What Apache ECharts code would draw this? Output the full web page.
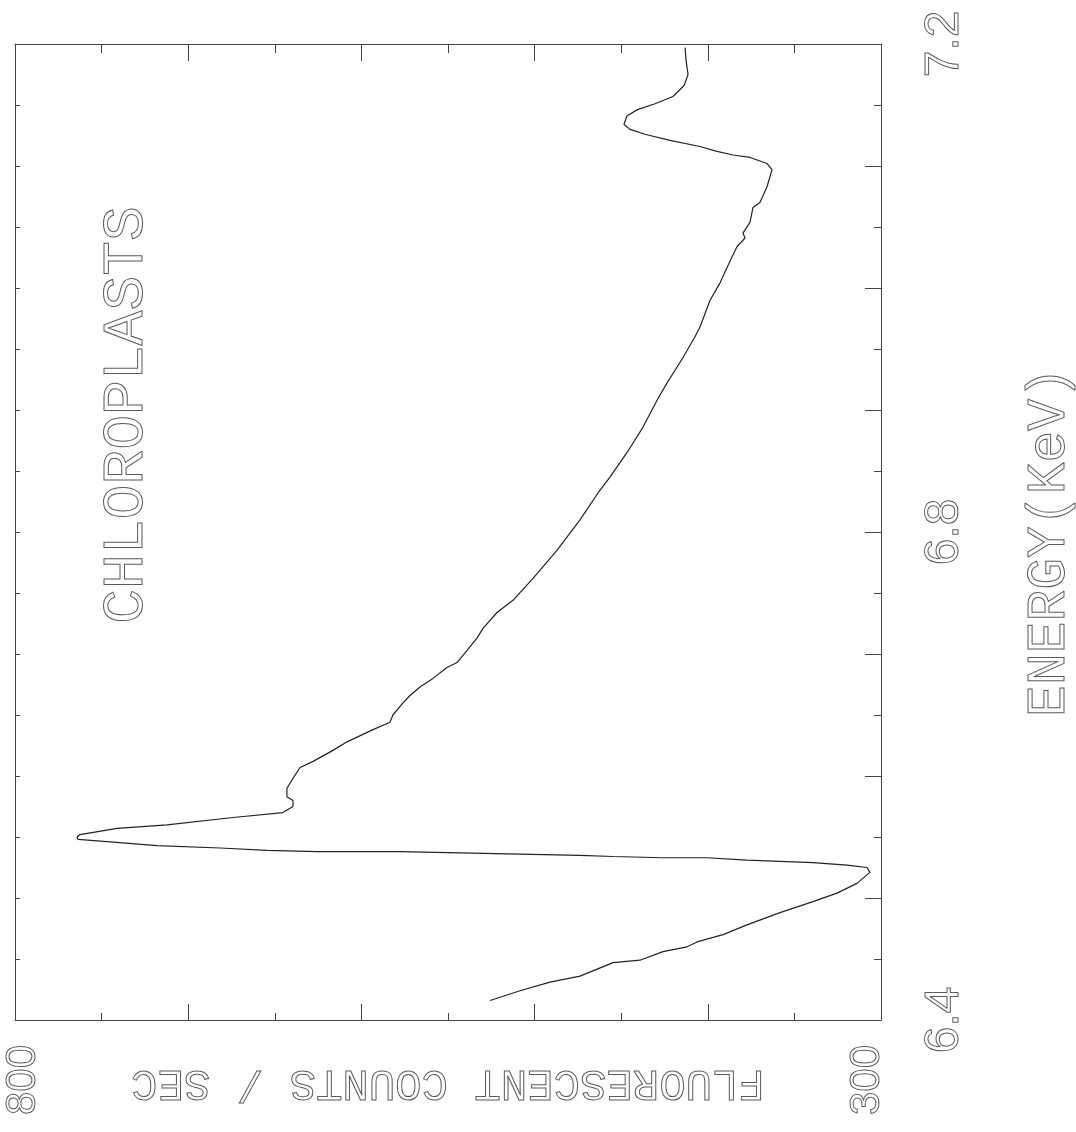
<!DOCTYPE html>
<html>
<head>
<meta charset="utf-8">
<title>Chloroplasts fluorescence scan</title>
<script src="https://cdn.jsdelivr.net/npm/echarts@6/dist/echarts.min.js"></script>
<style>
  html, body { margin: 0; padding: 0; background: #ffffff; }
  #chart { width: 1076px; height: 1132px; }
</style>
</head>
<body>
<div id="chart"></div>
<script>
// Incident energy (keV) and fluorescent counts per second along the scan
const energy = [
  6.416, 6.424, 6.431, 6.436, 6.447, 6.449, 6.456, 6.460, 6.464, 6.470,
  6.478, 6.488, 6.497, 6.504, 6.512, 6.521, 6.525, 6.527, 6.529, 6.530,
  6.531, 6.533, 6.533, 6.534, 6.535, 6.538, 6.538, 6.539, 6.541, 6.543,
  6.546, 6.548, 6.550, 6.552, 6.557, 6.560, 6.566, 6.570, 6.575, 6.580,
  6.583, 6.590, 6.598, 6.607, 6.612, 6.621, 6.628, 6.638, 6.644, 6.650,
  6.660, 6.666, 6.673, 6.680, 6.689, 6.693, 6.703, 6.713, 6.721, 6.734,
  6.744, 6.762, 6.785, 6.810, 6.832, 6.845, 6.865, 6.886, 6.908, 6.922,
  6.943, 6.960, 6.968, 6.990, 7.004, 7.022, 7.034, 7.041, 7.045, 7.054,
  7.066, 7.070, 7.083, 7.097, 7.102, 7.107, 7.109, 7.112, 7.116, 7.121,
  7.126, 7.130, 7.134, 7.141, 7.146, 7.151, 7.157, 7.166, 7.175, 7.187,
  7.197
];
const counts = [
  525.7, 508.4, 491.1, 473.8, 454.7, 439.1, 425.9, 412.0, 406.2, 391.2,
  377.4, 358.3, 339.3, 325.4, 313.9, 306.4, 308.1, 319.6, 339.3, 358.3,
  377.4, 400.5, 425.9, 454.7, 473.8, 577.7, 625.6, 654.5, 681.6, 718.0,
  745.1, 763.6, 764.2, 762.5, 741.1, 712.2, 674.1, 645.3, 639.5, 639.5,
  643.0, 643.0, 639.5, 635.4, 627.9, 616.4, 608.3, 593.3, 583.5, 581.8,
  576.0, 571.9, 566.2, 558.7, 550.6, 544.8, 539.0, 533.3, 529.8, 521.7,
  512.5, 500.9, 487.1, 473.8, 463.4, 456.5, 446.7, 437.4, 429.3, 423.6,
  414.3, 407.4, 404.5, 398.7, 393.0, 387.2, 383.1, 378.5, 379.7, 375.6,
  373.9, 369.9, 365.8, 362.9, 365.8, 375.6, 385.5, 394.7, 404.5, 421.8,
  436.3, 444.9, 448.4, 446.7, 440.9, 430.5, 420.1, 413.7, 411.4, 412.6,
  413.1
];

// Tick labels and titles
const energyTickLabels = ['6.4', '6.8', '7.2'];
const countTickLabels = ['800', '300'];
const energyTitle = 'ENERGY(KeV)';
const countTitle = 'FLUORESCENT COUNTS / SEC';
const sampleTitle = 'CHLOROPLASTS';

const ENERGY_MIN = 6.4, ENERGY_MAX = 7.2;
const COUNT_MIN = 300, COUNT_MAX = 800;

const INK = '#222';
const FRAME = '#444';
const TEXT = '#5a5a5a';
const MONO = '"Liberation Mono", "DejaVu Sans Mono", monospace';
const NUM = '"Liberation Sans", "DejaVu Sans", sans-serif';

const chart = echarts.init(document.getElementById('chart'), null, { renderer: 'canvas' });

function countAxis(position, major, minor) {
  return {
    type: 'value', position: position, inverse: true,
    min: COUNT_MIN, max: COUNT_MAX, interval: 100,
    axisLine: { show: true, onZero: false, lineStyle: { color: FRAME, width: 1 } },
    axisTick: { show: true, inside: true, length: major, lineStyle: { color: FRAME, width: 1 } },
    minorTick: { show: true, splitNumber: 2, length: minor, lineStyle: { color: FRAME, width: 1 } },
    axisLabel: { show: false },
    splitLine: { show: false },
    minorSplitLine: { show: false }
  };
}

const option = {
  backgroundColor: '#ffffff',
  animation: false,
  grid: { left: 15, top: 44, width: 866, height: 976, containLabel: false, outerBoundsMode: 'none' },
  xAxis: [
    countAxis('bottom', 16, 7),
    countAxis('top', 17, 9)
  ],
  yAxis: [
    {
      type: 'value', position: 'right',
      min: ENERGY_MIN, max: ENERGY_MAX, interval: 0.1,
      axisLine: { show: true, onZero: false, lineStyle: { color: FRAME, width: 1 } },
      axisTick: { show: true, inside: true, length: 16, lineStyle: { color: FRAME, width: 1 } },
      minorTick: { show: true, splitNumber: 2, length: 7, lineStyle: { color: FRAME, width: 1 } },
      axisLabel: { show: false },
      splitLine: { show: false },
      minorSplitLine: { show: false }
    },
    {
      type: 'value', position: 'left',
      min: ENERGY_MIN, max: ENERGY_MAX, interval: 0.05,
      axisLine: { show: true, onZero: false, lineStyle: { color: FRAME, width: 1 } },
      axisTick: { show: true, inside: true, length: 5, lineStyle: { color: FRAME, width: 1 } },
      axisLabel: { show: false },
      splitLine: { show: false }
    }
  ],
  series: [
    {
      type: 'line',
      xAxisIndex: 0,
      yAxisIndex: 0,
      data: energy.map((e, i) => [counts[i], e]),
      showSymbol: false,
      symbol: 'none',
      smooth: false,
      lineStyle: { color: INK, width: 1.2 },
      silent: true
    }
  ]
};

chart.setOption(option);

// Text is placed through the axes' own scales
const px = v => chart.convertToPixel({ xAxisIndex: 0 }, v);
const py = v => chart.convertToPixel({ yAxisIndex: 0 }, v);

// Plotter-style lettering: hollow strokes
function label(text, x, y, size, rotation, family) {
  return {
    type: 'text', x: x, y: y, rotation: rotation, silent: true,
    style: {
      text: text,
      fill: 'none',
      stroke: TEXT,
      lineWidth: 1,
      fontFamily: family || MONO, fontSize: size,
      align: 'center', verticalAlign: 'middle',
      textAlign: 'center', textVerticalAlign: 'middle'
    }
  };
}

const up = Math.PI / 2;
const graphics = [];

energyTickLabels.forEach(t => {
  graphics.push(label(t, px(COUNT_MIN) + 64, py(parseFloat(t)), 48, up, NUM));
});
countTickLabels.forEach((t, i) => {
  const shift = i === 0 ? 8 : -14;
  graphics.push(label(t, px(parseFloat(t)) + shift, 1080, 42, up, NUM));
});

const yMid = (py(ENERGY_MIN) + py(ENERGY_MAX)) / 2;
graphics.push(label(energyTitle, px(COUNT_MIN) + 169, yMid + 10, 53, up));
graphics.push(label(countTitle, (px(COUNT_MIN) + px(COUNT_MAX)) / 2, 1083, 44, Math.PI));
graphics.push(label(sampleTitle, px(COUNT_MAX) + 112, 415, 58, up));

chart.setOption({ graphic: graphics });
</script>
</body>
</html>
